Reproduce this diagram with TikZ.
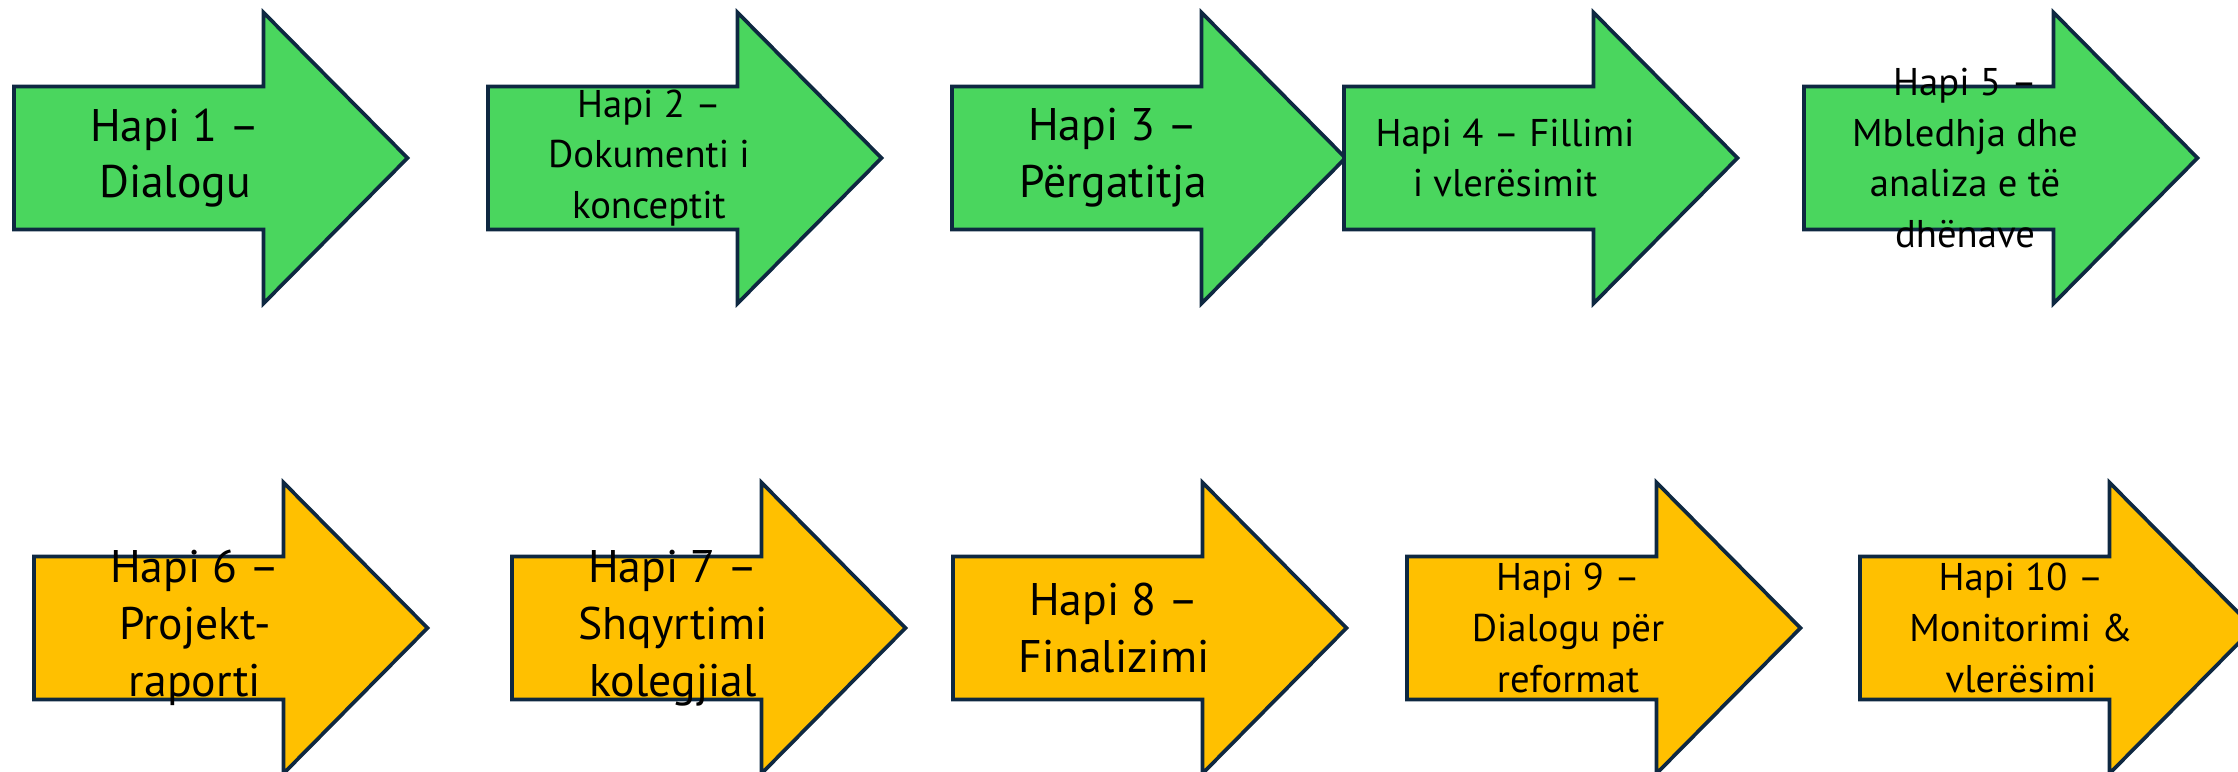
\documentclass[tikz,border=0pt]{standalone}
\usepackage{fontspec}
\setmainfont{PT Sans}
\definecolor{grn}{HTML}{4AD65E}
\definecolor{ylw}{HTML}{FFC000}
\definecolor{edgec}{HTML}{0E2841}
\tikzset{
  stepshape/.style={draw=edgec, line width=2.1pt, line join=miter},
  bigtxt/.style={align=center, font=\fontsize{26}{32.3}\selectfont, inner sep=0pt},
  smalltxt/.style={align=center, font=\fontsize{22}{28.9}\selectfont, inner sep=0pt},
}
\newcommand\stepArrow[3]{%
  \filldraw[stepshape, fill=#3] (#1,#2-71.5) -- ++(249.5,0) -- ++(0,-74) -- ++(144,145.5)
    -- ++(-144,145.5) -- ++(0,-74) -- ++(-249.5,0) -- cycle;
}
\begin{document}
\begin{tikzpicture}[x=0.02cm, y=-0.02cm]
\useasboundingbox (0,0) rectangle (2238,771);
\clip (0,0) rectangle (2238,771);
% row 1
\stepArrow{14}{158}{grn}
\stepArrow{488}{158}{grn}
\stepArrow{952}{158}{grn}
\stepArrow{1344}{158}{grn}
\stepArrow{1804}{158}{grn}
% row 2
\stepArrow{34}{628}{ylw}
\stepArrow{512}{628}{ylw}
\stepArrow{953}{628}{ylw}
\stepArrow{1407}{628}{ylw}
\stepArrow{1860}{628}{ylw}
% texts
\node[bigtxt]   (s1)  at (175,158)  {Hapi 1 –\\Dialogu};
\node[smalltxt] (s2)  at (649,158)  {Hapi 2 –\\Dokumenti i\\konceptit};
\node[bigtxt]   (s3)  at (1113,158) {Hapi 3 –\\Përgatitja};
\node[smalltxt] (s4)  at (1505,158) {Hapi 4 – Fillimi\\i vlerësimit};
\node[smalltxt] (s5)  at (1965,158) {Hapi 5 –\\Mbledhja dhe\\analiza e të\\dhënave};
\node[bigtxt]   (s6)  at (195,628)  {Hapi 6 –\\Projekt-\\raporti};
\node[bigtxt]   (s7)  at (673,628)  {Hapi 7 –\\Shqyrtimi\\kolegjial};
\node[bigtxt]   (s8)  at (1114,628) {Hapi 8 –\\Finalizimi};
\node[smalltxt] (s9)  at (1568,628) {Hapi 9 –\\Dialogu për\\reformat};
\node[smalltxt] (s10) at (2021,628) {Hapi 10 –\\Monitorimi \&\\vlerësimi};
\end{tikzpicture}
\end{document}
